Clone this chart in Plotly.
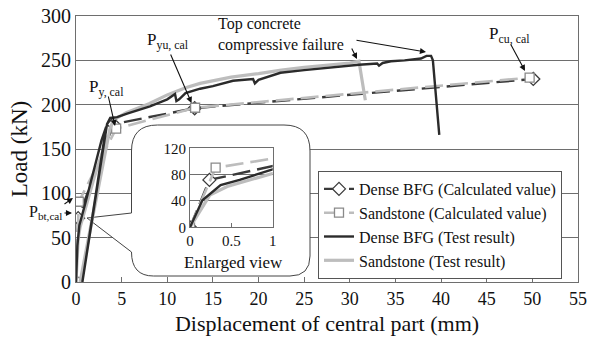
import plotly.graph_objects as go

# ---- data -------------------------------------------------------------
# Calculated curves: origin, P_bt, P_y, P_yu, P_cu
dense_calc_x = [0, 0.235, 4.1, 13.0, 50.1]
dense_calc_y = [0, 72, 178, 196, 229]
sand_calc_x = [0, 0.31, 4.4, 13.05, 49.7]
sand_calc_y = [0, 90.5, 173, 196.5, 230.5]

# Test results (first loading, unload/reload, then up to failure)
dense_test_x = [0, 0.15, 0.37, 0.6, 1.0, 1.5, 2.2, 2.8, 3.3, 0.7, 3.4, 3.75,
                4.5, 5.6, 8.1, 10.0, 10.85, 11.0, 11.3, 12.0, 13.6, 15.0, 17.2,
                19.4, 19.6, 20.0, 22.4, 25.0, 29.7, 31.0, 33.0, 33.2, 33.6,
                34.5, 36.0, 37.8, 38.4, 38.9, 39.1, 39.8]
dense_test_y = [0, 41, 64, 72, 88, 108, 135, 160, 175, 0, 178, 185,
                186, 190, 198, 206, 212, 204, 206, 213, 218, 221, 227,
                229, 224, 228, 236, 239, 244, 245, 246.5, 244, 247,
                249, 250, 252, 255, 255, 250, 166]
dense_first_n = 9

sand_test_x = [0, 0.24, 0.45, 1.0, 2.0, 3.0, 3.5, 0.45, 3.7, 4.0,
               4.5, 5.5, 8.0, 10.0, 12.0, 13.6, 15.0, 17.0, 20.0, 22.5,
               25.0, 28.0, 30.0, 31.0, 31.7]
sand_test_y = [0, 49, 62, 82, 118, 150, 165, 0, 172, 180,
               185, 191, 201, 211, 219, 224, 227, 231, 235, 239,
               242, 245, 247, 249, 205]
sand_first_n = 7

x_ticks = [0, 5, 10, 15, 20, 25, 30, 35, 40, 45, 50, 55]
y_ticks = [0, 50, 100, 150, 200, 250, 300]
inset_x_ticks = [0, 0.5, 1]
inset_y_ticks = [0, 40, 80, 120]

# ---- styling ------------------------------------------------------------
FONT = "'Liberation Serif', 'Times New Roman', serif"
DARK = "#2b2b2b"
LIGHT = "#bdbdbd"
FRAME = "#6e6e6e"
W, H = 590, 347
ML, MR, MT, MB = 76, 12, 16, 65
PW, PH = W - ML - MR, H - MT - MB
X_MAX, Y_MAX = 55, 300


def px_to_data(px, py):
    return (px - ML) * X_MAX / PW, (MT + PH - py) * Y_MAX / PH


def px_to_paper(px, py):
    return (px - ML) / PW, (MT + PH - py) / PH


fig = go.Figure()


def add_series(x, y, name, color, width, dash, symbol, mcolor, msize, rank, xa, ya, legend):
    mode = "lines+markers" if symbol else "lines"
    fig.add_trace(go.Scatter(
        x=x, y=y, name=name, mode=mode,
        line=dict(color=color, width=width, dash=dash),
        marker=dict(symbol=symbol or "circle", size=msize, color="white",
                    line=dict(color=mcolor, width=1.3)),
        xaxis=xa, yaxis=ya, showlegend=legend, legendrank=rank,
        cliponaxis=True,
    ))


for xa, ya, main in [("x", "y", True), ("x2", "y2", False)]:
    add_series(dense_calc_x, dense_calc_y, "Dense BFG (Calculated value)", "#3a3a3a", 2.4,
               "18px,7px", "diamond", "#3a3a3a", 10, 1, xa, ya, main)
    add_series(sand_calc_x, sand_calc_y, "Sandstone (Calculated value)", LIGHT, 2.6,
               "18px,7px", "square", "#8a8a8a", 9, 2, xa, ya, main)
    sx = sand_test_x if main else sand_test_x[:sand_first_n]
    sy = sand_test_y if main else sand_test_y[:sand_first_n]
    dx = dense_test_x if main else dense_test_x[:dense_first_n]
    dy = dense_test_y if main else dense_test_y[:dense_first_n]
    add_series(sx, sy, "Sandstone (Test result)", LIGHT, 3.2, "solid", None, LIGHT, 0, 4, xa, ya, main)
    add_series(dx, dy, "Dense BFG (Test result)", DARK, 2.4, "solid", None, DARK, 0, 3, xa, ya, main)


# ---- callout box behind the enlarged view ----------------------------------
def P(px, py):
    x, y = px_to_data(px, py)
    return f"{x:.4f},{y:.4f}"


r = 26
L, R, T, B = 131.5, 310, 125, 276
path = (f"M {P(L + r, T)} L {P(R - r, T)} Q {P(R, T)} {P(R, T + r)} "
        f"L {P(R, B - 20)} Q {P(R, B)} {P(R - 20, B)} L {P(L + 22, B)} "
        f"Q {P(L, B)} {P(L, B - 24)} L {P(87, 218)} L {P(L, 213)} "
        f"L {P(L, T + r)} Q {P(L, T)} {P(L + r, T)} Z")
fig.add_shape(type="path", path=path, xref="x", yref="y", layer="between",
              fillcolor="white", line=dict(color="#444444", width=1))


# ---- annotations ------------------------------------------------------------
def arrow(tail, head, xref="x"):
    hx, hy = px_to_data(*head)
    tx, ty = px_to_data(*tail)
    if xref == "paper":
        hx = px_to_paper(*head)[0]
        fig.add_annotation(x=hx, y=hy, xref="paper", yref="y", text="", showarrow=True,
                           ax=tail[0] - head[0], ay=tail[1] - head[1],
                           arrowhead=2, arrowsize=1.1, arrowwidth=1.1, arrowcolor="#111")
    else:
        fig.add_annotation(x=hx, y=hy, xref="x", yref="y", ax=tx, ay=ty,
                           axref="x", ayref="y", text="", showarrow=True,
                           arrowhead=2, arrowsize=1.1, arrowwidth=1.1, arrowcolor="#111")


def label(px, py, text, size=17, xanchor="center", align="center"):
    x, y = px_to_paper(px, py)
    fig.add_annotation(x=x, y=y, xref="paper", yref="paper", text=text, showarrow=False,
                       xanchor=xanchor, yanchor="middle", align=align,
                       font=dict(family=FONT, size=size, color="#111"))


label(216, 35, "Top concrete<br>compressive failure", size=16, xanchor="left", align="left")
arrow((351, 47), (357, 59))
arrow((355, 40), (426, 52))

label(168, 41, "P<sub>yu, cal</sub>")
arrow((170, 53), (191.5, 103))
label(106, 88, "P<sub>y, cal</sub>")
arrow((108, 95), (115, 126))
label(509, 35, "P<sub>cu, cal</sub>")
arrow((510, 43), (525, 71))
label(45, 212, "P<sub>bt,cal</sub>", size=16)
arrow((63, 205), (73, 198), xref="paper")
arrow((63, 213), (72, 213), xref="paper")

label(233, 262, "Enlarged view")

# ---- layout -----------------------------------------------------------------
axis_common = dict(showline=True, linecolor=FRAME, linewidth=1, mirror=True,
                   gridcolor=FRAME, gridwidth=1, zeroline=False, automargin=False)

ix0, iy0 = px_to_paper(190, 227.3)
ix1, iy1 = px_to_paper(272.7, 148.3)

fig.update_layout(
    width=W, height=H,
    margin=dict(l=ML, r=MR, t=MT, b=MB),
    paper_bgcolor="white", plot_bgcolor="white",
    font=dict(family=FONT, color="#111"),
    xaxis=dict(range=[0, X_MAX], tickvals=x_ticks, showgrid=False,
               ticks="inside", ticklen=5, tickcolor=FRAME,
               tickfont=dict(size=18), title=dict(text="Displacement of central part (mm)",
                                                  font=dict(size=22), standoff=8),
               **axis_common),
    yaxis=dict(range=[0, Y_MAX], tickvals=y_ticks, showgrid=True, ticks="",
               tickfont=dict(size=20), title=dict(text="Load (kN)", font=dict(size=23), standoff=6),
               **axis_common),
    xaxis2=dict(domain=[ix0, ix1], anchor="y2", range=[0, 1], tickvals=inset_x_ticks,
                ticktext=["0", "0.5", "1"], showgrid=False, ticks="inside", ticklen=4,
                tickcolor=FRAME, tickfont=dict(size=15), **axis_common),
    yaxis2=dict(domain=[iy0, iy1], anchor="x2", range=[0, 120], tickvals=inset_y_ticks,
                showgrid=True, ticks="", tickfont=dict(size=15), **axis_common),
    legend=dict(x=px_to_paper(318, 0)[0], y=px_to_paper(0, 171)[1], xanchor="left",
                yanchor="top", bgcolor="white", bordercolor="#555", borderwidth=1,
                font=dict(size=16, family=FONT), traceorder="normal",
                tracegroupgap=0, itemwidth=30),
    showlegend=True,
)

fig.write_html("out.html")
